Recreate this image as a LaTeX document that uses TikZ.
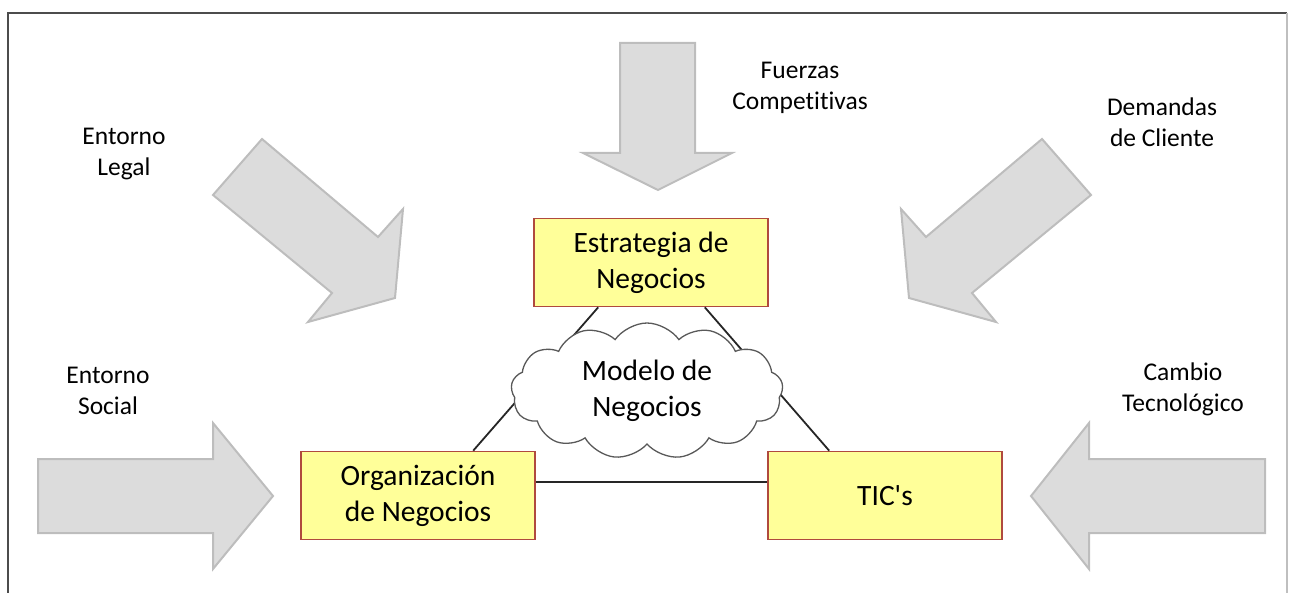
\documentclass[tikz,border=0pt]{standalone}
\usepackage{fontspec}
\setmainfont{Carlito}[Ligatures=NoCommon]
\newfontfamily\plainfont{Carlito}[Ligatures=NoCommon]
\usetikzlibrary{shapes.symbols}
\definecolor{arrfill}{HTML}{DCDCDC}
\definecolor{arrline}{HTML}{BDBDBD}
\definecolor{boxfill}{HTML}{FFFF99}
\definecolor{boxline}{HTML}{B04A3E}
\begin{document}
\begin{tikzpicture}[x=1pt,y=-1pt,
  bigarrow/.style={fill=arrfill,draw=arrline,line width=2pt,line join=miter},
  label/.style={align=center,font=\fontsize{25.5}{31}\selectfont,inner sep=0pt},
  boxnode/.style={draw=boxline,fill=boxfill,line width=1.6pt,minimum width=234pt,minimum height=88pt,align=center,font=\fontsize{29.5}{36}\selectfont,inner sep=0pt},
  link/.style={draw=black!85,line width=1.8pt}]
\useasboundingbox (0,0) rectangle (1293,593);
% frame
\draw[draw=black!70,line width=2pt] (8,593) -- (8,13) -- (1287,13);
\draw[draw=black!25,line width=1.5pt] (1287,13) -- (1287,593);
% big arrows
\draw[bigarrow] (620,43) -- (695,43) -- (695,153) -- (732,153) -- (658,190) -- (583,153) -- (620,153) -- cycle;
\draw[bigarrow] (262,139) -- (378,237) -- (403,209) -- (395,298) -- (308,322) -- (332,293) -- (213,195) -- cycle;
\draw[bigarrow] (1042,139) -- (926,237) -- (901,209) -- (909,298) -- (996,322) -- (972,293) -- (1091,195) -- cycle;
\draw[bigarrow] (38,459) -- (213,459) -- (213,423) -- (273,496) -- (213,569) -- (213,533) -- (38,533) -- cycle;
\draw[bigarrow] (1265,459) -- (1089,459) -- (1089,423) -- (1031,496) -- (1089,569) -- (1089,533) -- (1265,533) -- cycle;
% labels
\node[label] (legal) at (124,154) {Entorno\\Legal};
\node[label] (fuerzas) at (800,88) {Fuerzas\\Competitivas};
\node[label] (demandas) at (1162,122) {Demandas\\de Cliente};
\node[label] (social) at (108,391) {Entorno\\Social};
\node[label] (cambio) at (1183,389) {Cambio\\Tecnológico};
% boxes
\node[boxnode] (estr) at (651,262.5) {Estrategia de\\Negocios};
\node[boxnode] (org) at (418,495.5) {Organización\\de Negocios};
\node[boxnode] (tic) at (885,495.5) {\plainfont TIC's};
% links
\draw[link] ([xshift=65pt]estr.south west) -- ([xshift=173pt]org.north west);
\draw[link] ([xshift=-64pt]estr.south east) -- ([xshift=62pt]tic.north west);
\draw[link] ([yshift=13.5pt]org.east) -- ([yshift=13.5pt]tic.west);
% cloud
\node[cloud,cloud puffs=13,cloud puff arc=110,cloud ignores aspect,draw=black!65,fill=white,line width=1.3pt,
  minimum width=272pt,minimum height=136pt,inner sep=0pt] (cloud) at (647,391) {};
\node[align=center,inner sep=0pt,font=\fontsize{29.5}{36}\selectfont] (cloudtext) at (cloud.center) {Modelo de\\Negocios};
\end{tikzpicture}
\end{document}
